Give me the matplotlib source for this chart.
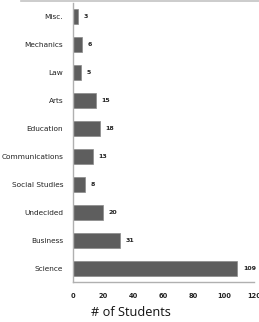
import matplotlib
matplotlib.use("Agg")
import matplotlib.pyplot as plt
from matplotlib.lines import Line2D

categories = ["Misc.", "Mechanics", "Law", "Arts", "Education", "Communications",
              "Social Studies", "Undecided", "Business", "Science"]
values = [3, 6, 5, 15, 18, 13, 8, 20, 31, 109]
xticks = [0, 20, 40, 60, 80, 100, 120]

fig = plt.figure(figsize=(2.59, 3.22), dpi=100)
ax = fig.add_axes([73/259, 1-282/322, (254-73)/259, (282-3)/322])

ypos = list(range(len(categories)))
bars = ax.barh(ypos, values, height=0.54, color="#5e5e5e", edgecolor="#8a8a8a", linewidth=0.5)
ax.set_ylim(len(categories)-0.5, -0.5)
ax.set_xlim(0, 120)
ax.set_yticks(ypos)
ax.set_yticklabels(categories, fontsize=5.3, color="#222222")
ax.set_xticks(xticks)
ax.set_xticklabels([str(t) for t in xticks], fontsize=4.8, color="#222222", fontweight="bold")
ax.tick_params(axis="both", length=0)
ax.tick_params(axis="y", pad=7)
ax.tick_params(axis="x", pad=8)
for s in ["top", "right"]:
    ax.spines[s].set_visible(False)
for s in ["left", "bottom"]:
    ax.spines[s].set_color("#b0b0b0")
    ax.spines[s].set_linewidth(1.0)
for y, v in zip(ypos, values):
    ax.annotate(str(v), (v, y), xytext=(4, 0), textcoords="offset points",
                va="center", ha="left", fontsize=4.5, fontweight="bold", color="#222222")
fig.text(131/259, 1-313/322, "# of Students", fontsize=9.2, family="Open Sans",
         color="#111111", ha="center", va="center")

fig.add_artist(Line2D([21/259, 1], [1-0.5/322, 1-0.5/322], color="#c4c4c4", linewidth=1.2,
                      transform=fig.transFigure))
fig.savefig("out.png", dpi=100)
